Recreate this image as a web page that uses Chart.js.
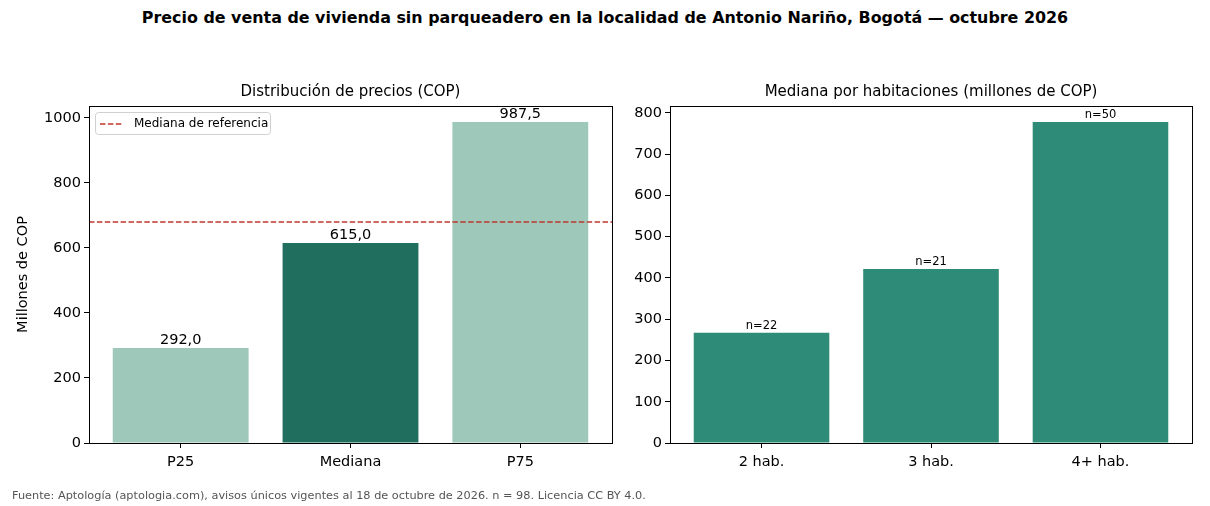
<!DOCTYPE html>
<html>
<head>
<meta charset="utf-8">
<script src="https://cdn.jsdelivr.net/npm/chart.js@4.4.1/dist/chart.umd.min.js"></script>
<style>
  body { margin: 0; background: #fff; font-family: 'DejaVu Sans', sans-serif; }
  #page { position: relative; width: 1210px; height: 506px; overflow: hidden; }
  #title { position: absolute; top: 8px; left: 0; width: 1210px; text-align: center; font-weight: bold; font-size: 15.9px; color: #000; }
  #footer { position: absolute; top: 489px; left: 12px; font-size: 11.3px; color: #555; }
  .wrap { position: absolute; top: 76px; height: 415px; }
</style>
</head>
<body>
<div id="page">
  <div id="title">Precio de venta de vivienda sin parqueadero en la localidad de Antonio Nariño, Bogotá — octubre 2026</div>
  <div class="wrap" style="left:0; width:615px"><canvas id="dist"></canvas></div>
  <div class="wrap" style="left:615px; width:595px"><canvas id="rooms"></canvas></div>
  <div id="footer">Fuente: Aptología (aptologia.com), avisos únicos vigentes al 18 de octubre de 2026. n = 98. Licencia CC BY 4.0.</div>
</div>
<script>
const priceLabels = ['P25', 'Mediana', 'P75']
const priceValues = [292.0, 615.0, 987.5]
const priceColors = ['#9ec8ba', '#1f6e5e', '#9ec8ba']
const priceTicks = [0, 200, 400, 600, 800, 1000]
const referenceMedian = 680

const roomLabels = ['2 hab.', '3 hab.', '4+ hab.']
const roomValues = [267, 422, 778]
const roomCounts = [22, 21, 50]
const roomTicks = [0, 100, 200, 300, 400, 500, 600, 700, 800]

const font = 'DejaVu Sans'

// full box around the plot area plus the subtitle centred over it
const frame = {
  id: 'frame',
  afterDraw(chart, args, opts) {
    const { ctx, chartArea: a } = chart
    ctx.save()
    ctx.strokeStyle = '#000'
    ctx.lineWidth = 1
    ctx.strokeRect(a.left + 0.5, a.top + 0.5, a.right - a.left, a.bottom - a.top)
    ctx.fillStyle = '#000'
    ctx.font = '15px ' + font
    ctx.textAlign = 'center'
    ctx.textBaseline = 'middle'
    ctx.fillText(opts.text, (a.left + a.right) / 2, a.top - 14)
    ctx.restore()
  }
}

const barText = {
  id: 'barText',
  afterDatasetsDraw(chart, args, opts) {
    const { ctx } = chart
    const meta = chart.getDatasetMeta(0)
    ctx.save()
    ctx.fillStyle = '#000'
    ctx.font = opts.size + 'px ' + font
    ctx.textAlign = 'center'
    ctx.textBaseline = 'bottom'
    meta.data.forEach((bar, i) => {
      ctx.fillText(opts.texts[i], bar.x, bar.y - 1)
    })
    ctx.restore()
  }
}

const refLine = {
  id: 'refLine',
  afterDatasetsDraw(chart, args, opts) {
    const { ctx, chartArea: a } = chart
    const y = chart.scales.y.getPixelForValue(opts.value)
    ctx.save()
    ctx.strokeStyle = '#c0392b'
    ctx.lineWidth = 1.5
    ctx.setLineDash([5.5, 2.4])
    ctx.beginPath()
    ctx.moveTo(a.left, y)
    ctx.lineTo(a.right, y)
    ctx.stroke()
    // legend box in the upper left corner
    const x0 = a.left + 6, y0 = a.top + 6
    ctx.setLineDash([])
    ctx.lineWidth = 1
    ctx.strokeStyle = '#d0d0d0'
    ctx.fillStyle = 'rgba(255,255,255,0.8)'
    ctx.beginPath()
    ctx.roundRect(x0 + 0.5, y0 + 0.5, 175, 22, 3)
    ctx.fill()
    ctx.stroke()
    ctx.strokeStyle = '#c0392b'
    ctx.lineWidth = 1.5
    ctx.setLineDash([5.5, 2.4])
    ctx.beginPath()
    ctx.moveTo(x0 + 5, y0 + 12)
    ctx.lineTo(x0 + 28, y0 + 12)
    ctx.stroke()
    ctx.fillStyle = '#000'
    ctx.font = '12px ' + font
    ctx.textBaseline = 'middle'
    ctx.fillText(opts.label, x0 + 39, y0 + 12)
    ctx.restore()
  }
}

function makeChart(el, labels, values, colors, yMax, yTicks, subtitle, yTitle, yWidth, rightPad, plugins, pluginOpts) {
  return new Chart(el, {
    type: 'bar',
    data: {
      datasets: [{
        data: values.map((v, i) => ({ x: i, y: v })),
        backgroundColor: colors,
        borderWidth: 0,
        categoryPercentage: 0.8,
        barPercentage: 1
      }]
    },
    options: {
      responsive: true,
      maintainAspectRatio: false,
      animation: false,
      layout: { padding: { top: 30, right: rightPad } },
      plugins: Object.assign({
        legend: { display: false },
        tooltip: { enabled: false },
        frame: { text: subtitle }
      }, pluginOpts),
      scales: {
        x: {
          type: 'linear',
          offset: false,
          min: -0.54,
          max: labels.length - 1 + 0.54,
          grid: { display: true, drawOnChartArea: false, color: '#000', tickLength: 5, offset: false },
          border: { color: '#000' },
          ticks: {
            color: '#000',
            padding: 6,
            font: { family: font, size: 14.5 },
            callback: v => labels[v]
          },
          afterBuildTicks: s => { s.ticks = labels.map((l, i) => ({ value: i })) },
          afterFit: s => { s.height = 48 }
        },
        y: {
          min: 0,
          max: yMax,
          grid: { display: true, drawOnChartArea: false, color: '#000', tickLength: 5 },
          border: { color: '#000' },
          ticks: {
            color: '#000',
            padding: 3,
            font: { family: font, size: 14.5 },
            callback: v => String(v)
          },
          afterBuildTicks: s => { s.ticks = yTicks.map(v => ({ value: v })) },
          title: {
            display: !!yTitle,
            text: yTitle,
            color: '#000',
            font: { family: font, size: 14.5 },
            padding: { top: 15, bottom: 6 }
          },
          afterFit: s => { s.width = yWidth }
        }
      }
    },
    plugins: plugins
  })
}

makeChart(
  document.getElementById('dist'), priceLabels, priceValues, priceColors,
  Math.max(...priceValues) * 1.05, priceTicks,
  'Distribución de precios (COP)', 'Millones de COP', 89, 3,
  [frame, refLine, barText],
  {
    refLine: { value: referenceMedian, label: 'Mediana de referencia' },
    barText: { size: 14.5, texts: priceValues.map(v => v.toFixed(1).replace('.', ',')) }
  }
)

makeChart(
  document.getElementById('rooms'), roomLabels, roomValues, roomValues.map(() => '#2e8b77'),
  Math.max(...roomValues) * 1.05, roomTicks,
  'Mediana por habitaciones (millones de COP)', '', 55, 18,
  [frame, barText],
  {
    barText: { size: 11.5, texts: roomCounts.map(n => 'n=' + n) }
  }
)
</script>
</body>
</html>
